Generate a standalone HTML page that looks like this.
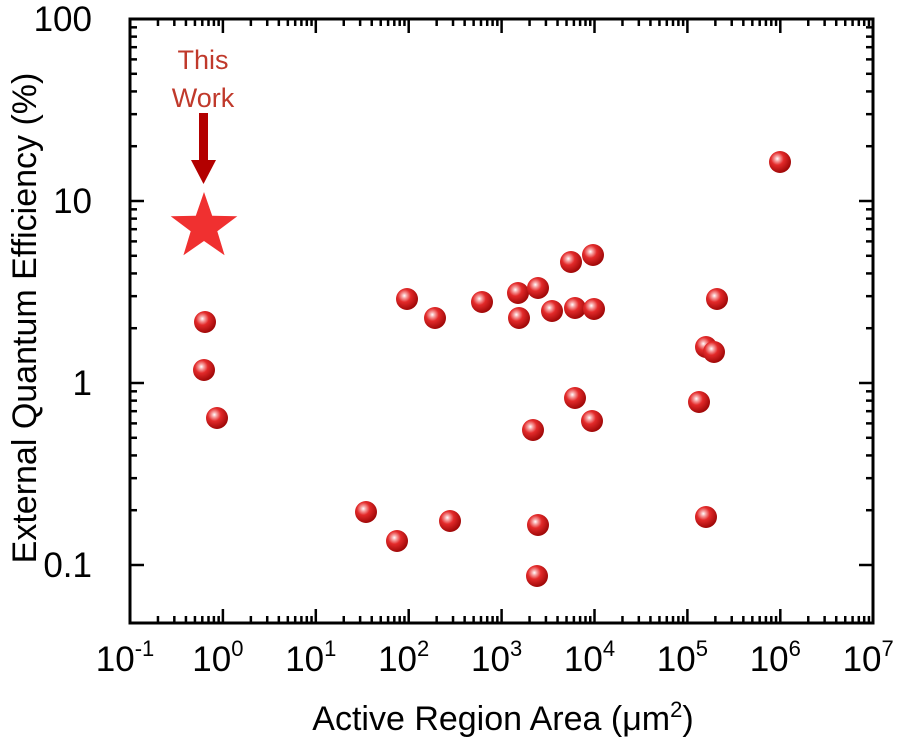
<!DOCTYPE html><html><head><style>body{margin:0;background:#fff}svg{display:block;font-family:"Liberation Sans",Arial,sans-serif}</style></head><body>
<svg width="900" height="743" viewBox="0 0 900 743">
<defs><radialGradient id="g" cx="0.38" cy="0.35" r="0.65"><stop offset="0" stop-color="#fff"/><stop offset="0.18" stop-color="#f6a0a0"/><stop offset="0.45" stop-color="#e32a2a"/><stop offset="1" stop-color="#a00808"/></radialGradient></defs>
<g id="t" stroke="#000" stroke-width="2.5"></g>
<rect x="130" y="19" width="743" height="604" fill="none" stroke="#000" stroke-width="3"/>
<g id="lab" font-size="35" fill="#000"></g>
<text x="503" y="730" font-size="34" text-anchor="middle">Active Region Area (μm<tspan dy="-13" font-size="22">2</tspan><tspan dy="13">)</tspan></text>
<text transform="translate(36,318) rotate(-90)" font-size="34" text-anchor="middle">External Quantum Efficiency (%)</text>
<g id="pts"></g>
<text x="203" y="69" font-size="27" fill="#c0392b" text-anchor="middle">This</text>
<text x="203" y="107" font-size="27" fill="#c0392b" text-anchor="middle">Work</text>
<rect x="199" y="113" width="9" height="47" fill="#b30000"/>
<polygon points="191,160 216,160 203.5,184" fill="#b30000"/>
<polygon id="star" fill="#f03030"/>
</svg>
<script>
const ns="http://www.w3.org/2000/svg";
function el(p,n,a,txt){const e=document.createElementNS(ns,n);for(const k in a)e.setAttribute(k,a[k]);if(txt)e.innerHTML=txt;p.appendChild(e);return e;}
const t=document.getElementById('t'),lab=document.getElementById('lab');
const X=d=>130+(d+1)*92.9, Y=d=>201-d*182;
for(let d=-1;d<7;d++){for(let m=1;m<10;m++){const x=X(d+Math.log10(m));if(x>873)break;const L=m==1?14:7;
 if(!(d==-1&&m==1)){el(t,'line',{x1:x,y1:623,x2:x,y2:623-L});el(t,'line',{x1:x,y1:19,x2:x,y2:19+L});}}}
for(let d=-2;d<2;d++){for(let m=1;m<10;m++){const y=Y(d+Math.log10(m));if(y>623||y<19)continue;const L=m==1?14:7;
 el(t,'line',{x1:130,y1:y,x2:130+L,y2:y});el(t,'line',{x1:873,y1:y,x2:873-L,y2:y});}}
for(let d=-1;d<=7;d++){el(lab,'text',{x:X(d)-5,y:671,'text-anchor':'middle'},'10<tspan dy="-15" font-size="22">'+d+'</tspan>');}
[['100',19],['10',201],['1',383],['0.1',565]].forEach(([s,y])=>el(lab,'text',{x:92,y:y+12,'text-anchor':'end'},s));
const P=[[205,322],[204,370],[217,418],[407,299],[435,318],[482,302],[366,512],[397,541],[450,521],[518,293],[519,318],[538,288],[552,311],[571,262],[575,308],[593,255],[575,398],[594,309],[592,421],[533,430],[538,525],[537,576],[699,402],[706,347],[714,352],[717,299],[706,517],[780,162]];
const g=document.getElementById('pts');P.forEach(([x,y])=>el(g,'circle',{cx:x,cy:y,r:11,fill:'url(#g)'}));
let s='';for(let i=0;i<10;i++){const r=i%2?14:35,a=-Math.PI/2+i*Math.PI/5;s+=(204+r*Math.cos(a)).toFixed(1)+','+(227+r*Math.sin(a)).toFixed(1)+' ';}
document.getElementById('star').setAttribute('points',s);
</script>
</body></html>
